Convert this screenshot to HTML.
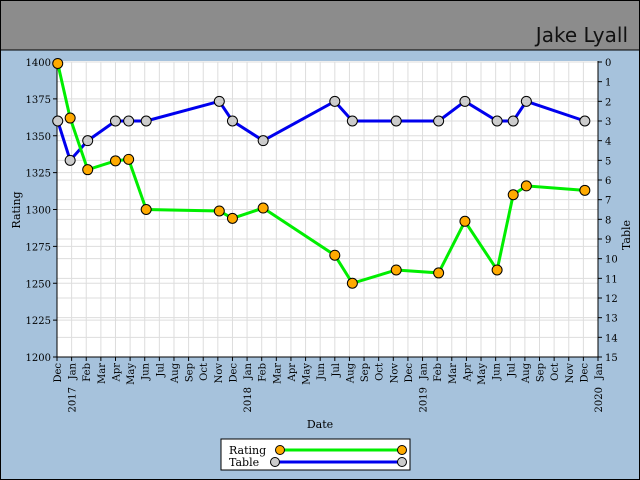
<!DOCTYPE html>
<html><head><meta charset="utf-8"><style>
body{margin:0;width:640px;height:480px;overflow:hidden;background:#a6c2dc}
svg{display:block;font-family:"DejaVu Serif","Liberation Serif",serif}
</style></head><body>
<svg width="640" height="480">
<rect x="0" y="0" width="640" height="480" fill="#a6c2dc"/>
<rect x="0" y="0" width="640" height="50" fill="#8c8c8c"/>
<line x1="0" y1="50" x2="640" y2="50" stroke="#000"/>
<text x="628" y="42" text-anchor="end" font-family="'DejaVu Sans',sans-serif" font-size="20" fill="#111">Jake Lyall</text>
<rect x="57" y="61" width="541" height="296" fill="#fff"/>
<g id="grid"></g><g id="axes"></g><g id="series"></g>
<text x="320" y="428" text-anchor="middle" font-size="11">Date</text>
<text transform="translate(20,210) rotate(-90)" text-anchor="middle" font-size="11">Rating</text>
<text transform="translate(630,235) rotate(-90)" text-anchor="middle" font-size="11">Table</text>
<g>
<rect x="221" y="439" width="189" height="31" fill="#fff" stroke="#000"/>
<text x="229" y="454" font-size="11">Rating</text>
<text x="229" y="466" font-size="11">Table</text>
<line x1="280" y1="450" x2="402" y2="450" stroke="#00ee00" stroke-width="3"/>
<circle cx="280" cy="450" r="4.5" fill="#ffaa00" stroke="#000"/><circle cx="402" cy="450" r="4.5" fill="#ffaa00" stroke="#000"/>
<line x1="275" y1="462" x2="402" y2="462" stroke="#0000ee" stroke-width="3"/>
<circle cx="275" cy="462" r="4.5" fill="#ccc" stroke="#000"/><circle cx="402" cy="462" r="4.5" fill="#ccc" stroke="#000"/>
</g>
<rect x="0.5" y="0.5" width="639" height="479" fill="none" stroke="#000"/>
</svg>
<script>
const monthLabels=["Dec","Jan","Feb","Mar","Apr","May","Jun","Jul","Aug","Sep","Oct","Nov","Dec","Jan","Feb","Mar","Apr","May","Jun","Jul","Aug","Sep","Oct","Nov","Dec","Jan","Feb","Mar","Apr","May","Jun","Jul","Aug","Sep","Oct","Nov","Dec","Jan"];
const yearLabels={1:"2017",13:"2018",25:"2019",37:"2020"};
const ratingTicks=[1200,1225,1250,1275,1300,1325,1350,1375,1400];
const tableTicks=[0,1,2,3,4,5,6,7,8,9,10,11,12,13,14,15];
const dates=[0.05,0.9,2.1,4,4.9,6.1,11.1,12,14.1,19,20.2,23.2,26.1,27.9,30.1,31.2,32.1,36.1];
const rating=[1399,1362,1327,1333,1334,1300,1299,1294,1301,1269,1250,1259,1257,1292,1259,1310,1316,1313];
const table=[3,5,4,3,3,3,2,3,4,2,3,3,3,2,3,3,2,3];
const NS="http://www.w3.org/2000/svg";
const X0=57,X1=598,Y0=357,Y1=62;
const xs=m=>X0+(X1-X0)*m/37;
const yr=v=>Y0-(Y0-Y1)*(v-1200)/200;
const yt=v=>Y1+(Y0-Y1)*v/15;
function mk(p,t,a){const e=document.createElementNS(NS,t);for(const k in a)e.setAttribute(k,a[k]);p.appendChild(e);return e;}
const grid=document.getElementById('grid'),axes=document.getElementById('axes'),ser=document.getElementById('series');
monthLabels.forEach((l,i)=>{const x=xs(i);
 const g=mk(grid,'line',{x1:x,y1:Y1,x2:x,y2:Y0,stroke:'#ddd'});
 
 
 mk(axes,'line',{x1:x,y1:Y0,x2:x,y2:Y0+4,stroke:'#000'});
 const t=mk(axes,'text',{transform:`translate(${x+4},${Y0+6}) rotate(-90)`,'text-anchor':'end','font-size':'10'});
 t.textContent=l;
 
 
 if(yearLabels[i]){const y=mk(axes,'text',{transform:`translate(${x+4},${Y0+30}) rotate(-90)`,'text-anchor':'end','font-size':'10'});
  y.textContent=yearLabels[i];
  
  }
});
tableTicks.forEach(v=>{const y=yt(v);
 const g=mk(grid,'line',{x1:X0,y1:y,x2:X1,y2:y,stroke:'#ddd'});
 
 
 mk(axes,'line',{x1:X1,y1:y,x2:X1+4,y2:y,stroke:'#000'});
 const t=mk(axes,'text',{x:X1+7,y:y+4,'font-size':'10'});t.textContent=v;
 
 
});
ratingTicks.forEach(v=>{const y=yr(v);
 const g=mk(grid,'line',{x1:X0,y1:y,x2:X1,y2:y,stroke:'#ddd'});
 
 
 mk(axes,'line',{x1:X0-4,y1:y,x2:X0,y2:y,stroke:'#000'});
 const t=mk(axes,'text',{x:X0-6,y:y+4,'text-anchor':'end','font-size':'10'});t.textContent=v;
 
 
});
mk(axes,'line',{x1:X0,y1:Y1-1,x2:X0,y2:Y0,stroke:'#000'});
mk(axes,'line',{x1:X1,y1:Y1-1,x2:X1,y2:Y0,stroke:'#000'});
mk(axes,'line',{x1:X0,y1:Y0,x2:X1,y2:Y0,stroke:'#000'});
function series(vals,yf,color,fill,name){
 const pl=mk(ser,'polyline',{points:vals.map((v,i)=>xs(dates[i])+','+yf(v)).join(' '),fill:'none',stroke:color,'stroke-width':3});
 
 
 vals.forEach((v,i)=>{const c=mk(ser,'circle',{cx:xs(dates[i]),cy:yf(v),r:5,fill:fill,stroke:'#000'});
  
  });
}
series(table,yt,'#0000ee','#ccc','table');
series(rating,yr,'#00ee00','#ffaa00','rating');
</script>
</body></html>
